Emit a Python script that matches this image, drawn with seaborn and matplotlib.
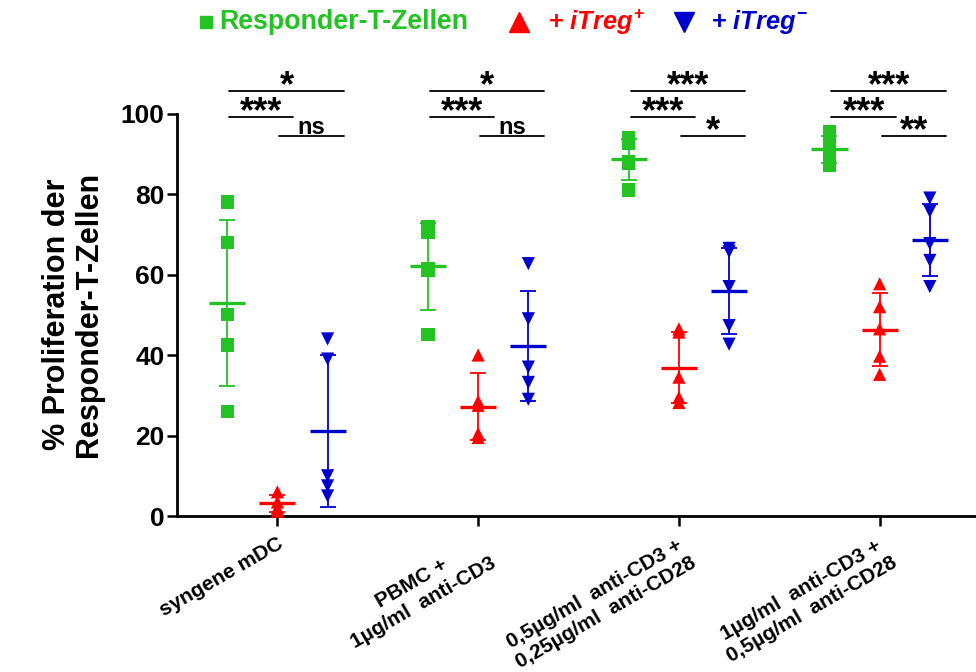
import pandas as pd
import matplotlib
matplotlib.use("Agg")
import matplotlib.pyplot as plt
from matplotlib.lines import Line2D
import matplotlib.transforms as mtransforms
import seaborn as sns

# --- data ---------------------------------------------------------------
conditions = [
    "syngene mDC",
    "PBMC +\n1µg/ml  anti-CD3",
    "0,5µg/ml  anti-CD3 +\n0,25µg/ml  anti-CD28",
    "1µg/ml  anti-CD3 +\n0,5µg/ml  anti-CD28",
]
populations = ["Responder-T-Zellen", "+ iTreg+", "+ iTreg-"]

responder = [[78, 68, 50, 42.5, 26], [72, 70.5, 61.5, 61, 45],
             [94, 92.5, 88, 87.5, 81], [95.5, 93, 91, 89, 87]]
itreg_pos = [[6, 3.5, 2, 1.2], [40, 28.5, 27.5, 20.5, 19.5],
             [46.5, 45.7, 34.5, 29.5, 28.2], [57.7, 52, 46.5, 39.7, 35.2]]
itreg_neg = [[44, 39, 10, 7.5, 5], [62.7, 49, 37, 33.2, 29],
             [66.5, 65.7, 57, 47.3, 42.7], [79, 75.7, 67.7, 63.5, 57]]

# significance labels per condition
sig_green_red = ["***", "***", "***", "***"]
sig_red_blue = ["ns", "ns", "*", "**"]
sig_green_blue = ["*", "*", "***", "***"]

GREEN, RED, BLUE = "#22C322", "#FF0000", "#0000CD"
palette = dict(zip(populations, [GREEN, RED, BLUE]))
markers = dict(zip(populations, ["s", "^", "v"]))
offsets = dict(zip(populations, [-0.25, 0.0, 0.25]))

rows = []
for i, cond in enumerate(conditions):
    for pop, vals in zip(populations, [responder, itreg_pos, itreg_neg]):
        for v in vals[i]:
            rows.append({"cond": cond, "pop": pop, "value": v, "x": i + offsets[pop]})
df = pd.DataFrame(rows)

sns.set_theme(style="ticks")
plt.rcParams["font.family"] = ["Liberation Sans", "DejaVu Sans"]
plt.rcParams["font.weight"] = "bold"
for k in ["text.color", "axes.labelcolor", "xtick.color", "ytick.color", "axes.edgecolor"]:
    plt.rcParams[k] = "black"
plt.rcParams["mathtext.fontset"] = "custom"
plt.rcParams["mathtext.rm"] = "Liberation Sans:bold"
plt.rcParams["mathtext.it"] = "Liberation Sans:italic:bold"

fig = plt.figure(figsize=(9.76, 6.72), dpi=100)
ax = fig.add_axes([0.1814, 0.2321, 0.8186, 0.599])

sns.scatterplot(data=df, x="x", y="value", hue="pop", style="pop",
                palette=palette, markers=markers, s=90, linewidth=0,
                legend=False, clip_on=False, zorder=3, ax=ax)

# mean +/- SD
stats = df.groupby(["cond", "pop"], sort=False)["value"].agg(["mean", "std"]).reset_index()
stats["x"] = stats["cond"].map(conditions.index) + stats["pop"].map(offsets)
for _, r in stats.iterrows():
    c = palette[r["pop"]]
    ax.errorbar(r["x"], r["mean"], yerr=r["std"], fmt="none", ecolor=c,
                elinewidth=1.3, capsize=6, capthick=1.3, clip_on=False, zorder=4)
    ax.hlines(r["mean"], r["x"] - 0.09, r["x"] + 0.09, color=c, lw=2.4,
              zorder=4, clip_on=False)

# significance bars
for i in range(len(conditions)):
    pairs = [(-0.25, 0.0, sig_green_red[i], 99.1),
             (0.0, 0.25, sig_red_blue[i], 94.3),
             (-0.25, 0.25, sig_green_blue[i], 105.6)]
    for a, b, lab, lvl in pairs:
        x0, x1 = i + a + 0.01, i + b + 0.08
        ax.plot([x0, x1], [lvl, lvl], color="black", lw=1.3, clip_on=False)
        if lab == "ns":
            ax.annotate(lab, xy=((x0 + x1) / 2, lvl), xytext=(0, 2),
                        textcoords="offset points", ha="center", va="baseline",
                        fontsize=17, fontweight="bold", annotation_clip=False)
        else:
            ax.annotate(lab, xy=((x0 + x1) / 2, lvl), xytext=(0, -3.5),
                        textcoords="offset points", ha="center", va="baseline",
                        fontsize=26, fontweight="bold", annotation_clip=False)

ax.set_xlim(-0.5, 3.48)
ax.set_ylim(0, 100)
ax.set_xticks(range(len(conditions)))
ax.set_xticklabels(conditions, rotation=30, ha="right", rotation_mode="anchor",
                   multialignment="center", fontsize=15, fontweight="bold")
shift = mtransforms.ScaledTranslation(-8.5 / 72, 0, fig.dpi_scale_trans)
for lab in ax.get_xticklabels():
    lab.set_transform(lab.get_transform() + shift)
ax.set_yticks([0, 20, 40, 60, 80, 100])
ax.tick_params(axis="y", labelsize=19, length=7, width=1.8, pad=2)
ax.tick_params(axis="x", length=7, width=1.8, pad=6)
ax.set_xlabel("")
ax.set_ylabel("% Proliferation der\nResponder-T-Zellen", fontsize=22,
              fontweight="bold", labelpad=12, linespacing=1.1)
sns.despine(ax=ax)
for s in ["left", "bottom"]:
    ax.spines[s].set_linewidth(2)

# legend across the top
ly = 0.967
fig.add_artist(Line2D([206 / 976], [ly], marker="s", ms=8, color=GREEN,
                      transform=fig.transFigure))
fig.text(219 / 976, ly, "Responder-T-Zellen", color=GREEN, fontsize=19.3,
         fontweight="bold", ha="left", va="center")
fig.add_artist(Line2D([519 / 976], [ly], marker="^", ms=15, color=RED,
                      transform=fig.transFigure))
fig.text(548 / 976, ly, r"+ $iTreg^{+}$", color=RED, fontsize=18.3,
         fontweight="bold", ha="left", va="center")
fig.add_artist(Line2D([684 / 976], [ly], marker="v", ms=15, color=BLUE,
                      transform=fig.transFigure))
fig.text(711 / 976, ly, r"+ $iTreg^{-}$", color=BLUE, fontsize=18.3,
         fontweight="bold", ha="left", va="center")

fig.savefig("out.png", dpi=100)
